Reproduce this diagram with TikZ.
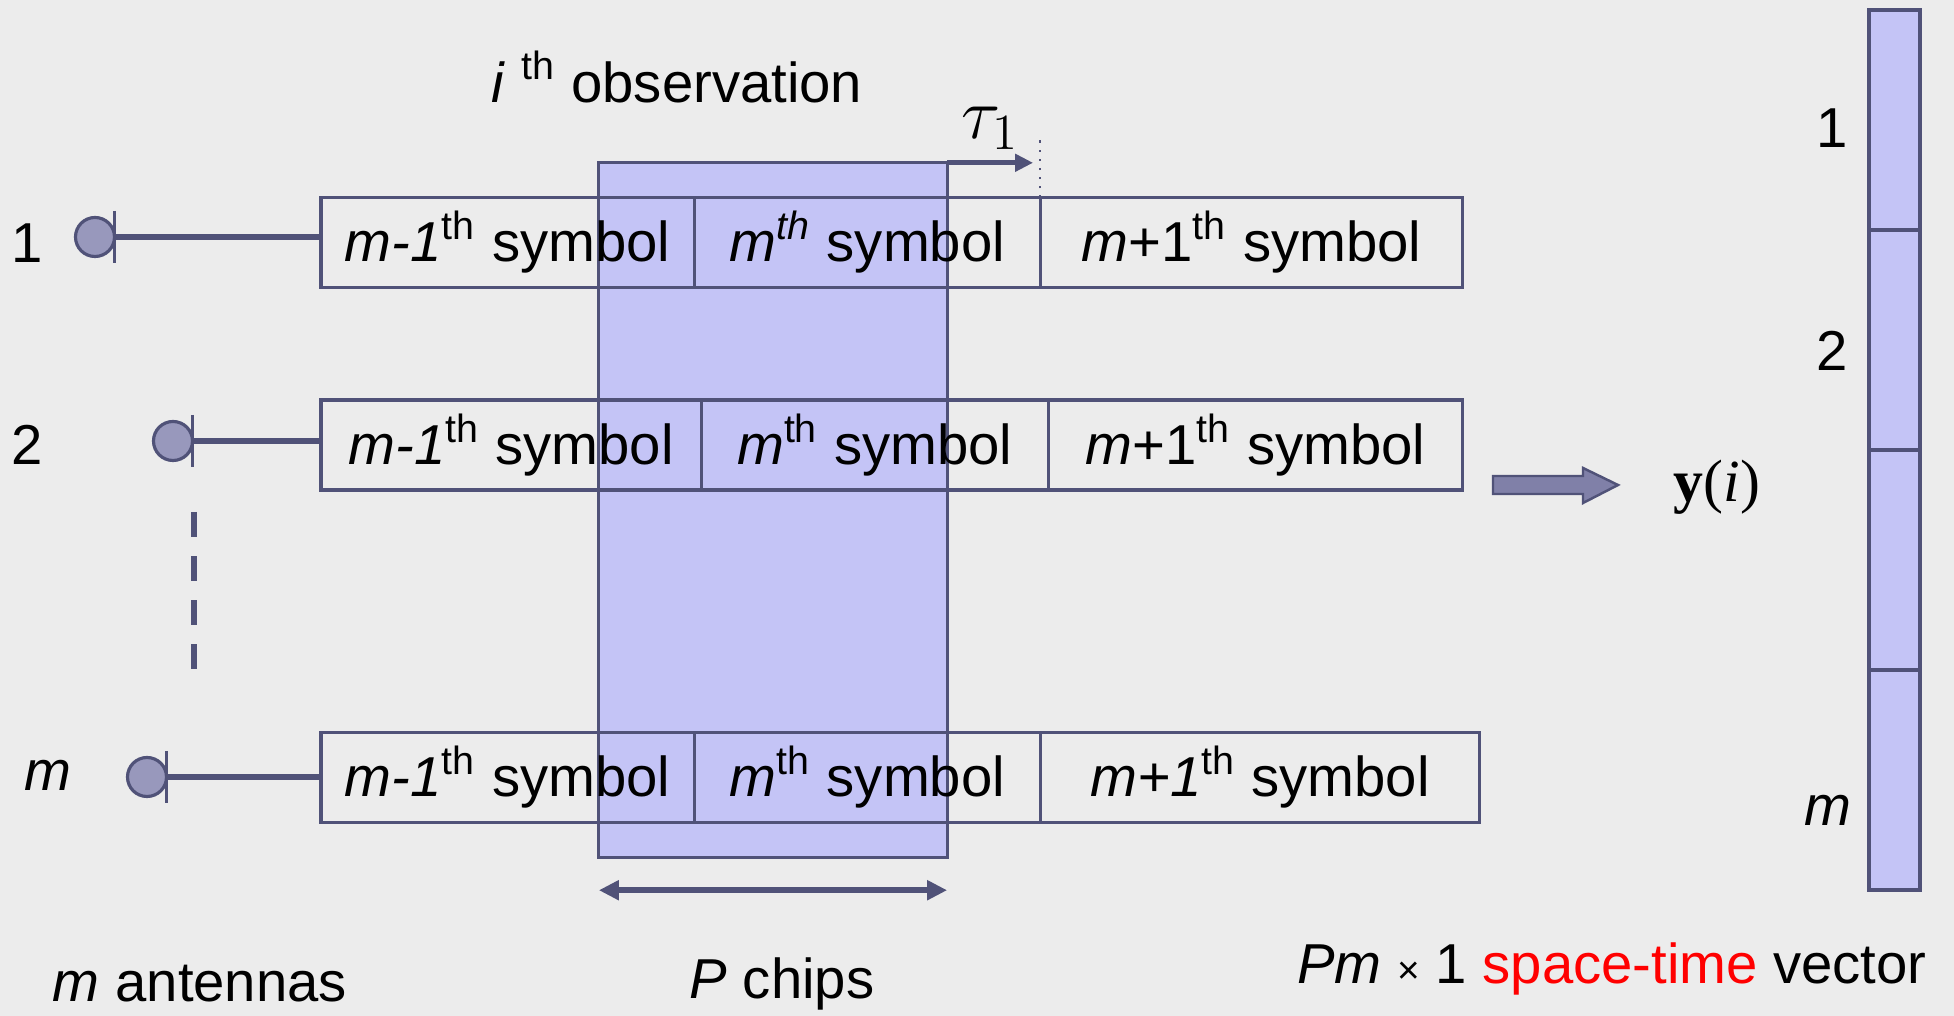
\documentclass[tikz,border=0pt]{standalone}
\usepackage{fontspec}
\setmainfont{Liberation Sans}
\newfontfamily\timesfont{Liberation Serif}
\usetikzlibrary{positioning,arrows.meta}
\definecolor{bgcol}{RGB}{236,236,236}
\definecolor{linecol}{RGB}{80,82,120}
\definecolor{wincol}{RGB}{196,196,246}
\definecolor{antcol}{RGB}{152,152,188}
\definecolor{arrcol}{RGB}{128,128,168}
\tikzset{
  symbox/.style={draw=linecol, line width=0.9pt, minimum height=0.9cm, inner sep=0pt, outer sep=0pt},
  antenna/.style={circle, draw=linecol, fill=antcol, line width=0.9pt, minimum size=0.39cm, inner sep=0pt, outer sep=0pt},
  feed/.style={linecol, line width=1.8pt},
  cell/.style={draw=linecol, fill=wincol, line width=0.9pt, minimum width=0.51cm, minimum height=2.2cm, inner sep=0pt, outer sep=0pt},
  tip/.style={-{Triangle[length=0.18cm,width=0.17cm]}}
}

\begin{document}
\begin{tikzpicture}[x=0.01cm, y=-0.01cm, font=\fontsize{16}{19}\selectfont]
  \useasboundingbox (0,0) rectangle (1954,1016);
  \fill[bgcol] (0,0) rectangle (1954,1016);
  \node[draw=linecol, fill=wincol, line width=0.9pt, minimum width=3.48cm, minimum height=6.94cm, inner sep=0pt, outer sep=0pt] (win) at (773,510) {};

  % symbol rows
  \node[symbox, minimum width=3.73cm, anchor=west] (r1a) at (321,242.5) {\textit{m-1}\textsuperscript{th} symbol};
  \node[symbox, minimum width=3.46cm, right=0pt of r1a] (r1b) {\textit{m\textsuperscript{th}} symbol};
  \node[symbox, minimum width=4.22cm, right=0pt of r1b] (r1c) {\textit{m}+1\textsuperscript{th} symbol};
  \node[symbox, minimum width=3.80cm, anchor=west] (r2a) at (321,445) {\textit{m-1}\textsuperscript{th} symbol};
  \node[symbox, minimum width=3.47cm, right=0pt of r2a] (r2b) {\textit{m}\textsuperscript{th} symbol};
  \node[symbox, minimum width=4.14cm, right=0pt of r2b] (r2c) {\textit{m}+1\textsuperscript{th} symbol};
  \node[symbox, minimum width=3.73cm, anchor=west] (rma) at (321,777.5) {\textit{m-1}\textsuperscript{th} symbol};
  \node[symbox, minimum width=3.46cm, right=0pt of rma] (rmb) {\textit{m}\textsuperscript{th} symbol};
  \node[symbox, minimum width=4.39cm, right=0pt of rmb] (rmc) {\textit{m+1}\textsuperscript{th} symbol};

  % antennas
  \foreach \n/\x/\y/\r in {1/95/237/r1a, 2/173/441/r2a, m/147/777/rma} {
    \node[antenna] (ant\n) at (\x,\y) {};
    \draw[linecol, line width=0.8pt] ([yshift=0.26cm]ant\n.east) -- ([yshift=-0.26cm]ant\n.east);
    \draw[feed] (ant\n.east) -- (ant\n.east -| \r.west);
  }
  \draw[linecol, line width=1.6pt, dash pattern=on 0.25cm off 0.19cm] (194,512) -- (194,670);
  \node (n1) at (27,243) {1};
  \node (n2) at (27,445) {2};
  \node (nm) at (48,775) {\textit{m}};

  \node (obs) at (677,77) {\textit{i} \textsuperscript{th} observation};
  \draw[linecol, line width=1.4pt, tip] (win.north east) -- ++(86,0) coordinate (tauend);
  \draw[linecol, dotted, line width=0.6pt] (r1c.north west) -- ++(0,-62);
  \node (tau) at (990,128) {\fontsize{21}{25}\selectfont$\tau_1$};

  \draw[linecol, line width=1.6pt, {Triangle[length=0.2cm,width=0.19cm]}-{Triangle[length=0.2cm,width=0.19cm]}]
    ([yshift=-0.33cm]win.south west) -- ([yshift=-0.33cm]win.south east);

  \node (ant) at (200,984) {\textit{m} antennas};
  \node (chips) at (782,984) {\textit{P} chips};
  \node (stv) at (1612,969) {\textit{Pm} {\fontsize{11}{12}\selectfont×} 1 \textcolor{red}{space-time} vector};

  % block arrow and vector
  \filldraw[fill=arrcol, draw=linecol, line width=0.7pt] (1493,476) -- (1583,476) -- (1583,468) -- (1618,485)
    -- (1583,503) -- (1583,494) -- (1493,494) -- cycle;
  \node (yi) at (1717,487) {\fontsize{17}{20}\selectfont\timesfont\textbf{y}(\textit{i})};
  \foreach \k in {1,...,4}
    \node[cell] (v\k) at (1894.5,{120+220*(\k-1)}) {};
  \node (v1l) at (1832,128) {1};
  \node (v2l) at (1832,351) {2};
  \node (v4l) at (1828,810) {\textit{m}};
\end{tikzpicture}
\end{document}
